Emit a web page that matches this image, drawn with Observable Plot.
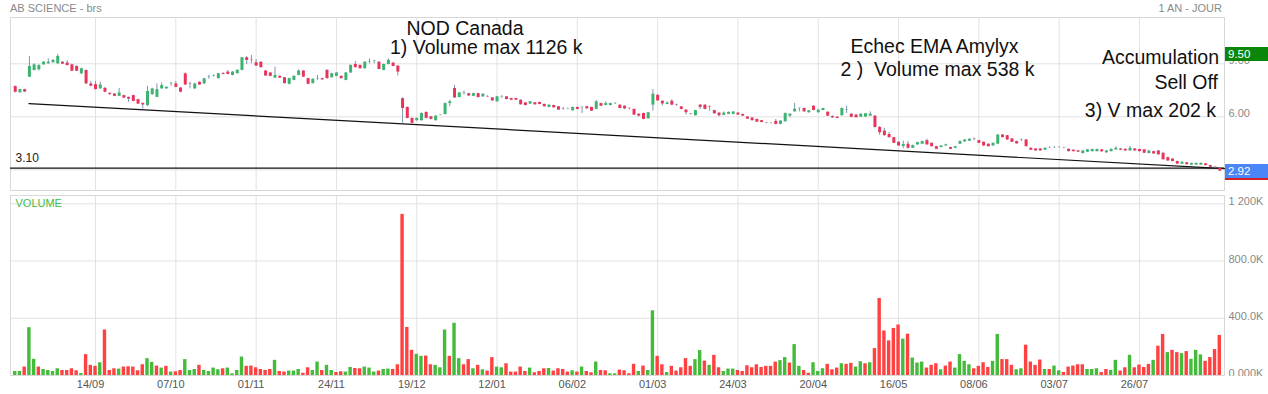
<!DOCTYPE html>
<html><head><meta charset="utf-8">
<script src="https://cdn.jsdelivr.net/npm/d3@7"></script>
<script src="https://cdn.jsdelivr.net/npm/@observablehq/plot@0.6"></script>
<style>
body{margin:0;background:#fff;font-family:"Liberation Sans",Arial,sans-serif;}
#wrap{position:relative;width:1268px;height:394px;overflow:hidden;background:#fff;}
#price,#volume{position:absolute;left:0;}
#price{top:0;}
#volume{top:190px;}
.hdr{position:absolute;font-size:11px;line-height:11px;color:#8a8a8a;white-space:pre;}
.box{position:absolute;left:1225px;width:43px;height:14px;color:#fff;font-size:11.5px;line-height:14px;padding-left:3px;box-sizing:border-box;}
#clip{position:absolute;left:1225px;top:376px;width:43px;height:18px;background:#fff;}
</style></head>
<body>
<div id="wrap">
  <div id="price"></div>
  <div id="volume"></div>
  <div id="clip"></div>
  <div class="hdr" style="left:10px;top:3px;">AB SCIENCE - brs</div>
  <div class="hdr" style="right:46px;top:3px;">1 AN - JOUR</div>
</div>
<script>
// ---- data ----
const opens = [7.71,7.36,7.54,8.24,8.62,8.66,8.94,9.00,9.06,9.00,
9.09,9.04,8.94,8.85,8.43,8.62,7.86,7.82,7.58,7.61,
7.33,7.29,7.16,7.20,7.10,7.20,6.97,6.76,6.63,7.25,
7.10,7.58,7.58,7.84,7.86,7.63,8.43,7.86,7.58,7.95,
7.86,8.24,8.29,8.16,8.45,8.53,8.34,8.44,8.63,9.34,
9.23,9.06,9.09,8.59,8.48,8.19,8.29,8.21,7.84,8.06,
8.34,8.59,8.16,7.88,8.15,8.16,8.63,8.21,8.29,8.29,
8.06,8.48,8.96,8.91,8.72,9.08,9.14,9.09,8.63,8.96,
9.04,8.87,7.03,6.53,5.91,5.78,5.78,6.25,6.00,5.78,
6.08,6.13,6.75,7.60,7.09,7.34,7.31,7.16,7.31,7.13,
7.14,7.07,6.85,7.12,7.13,7.03,7.03,6.94,6.79,6.72,
6.79,6.81,6.70,6.53,6.64,6.57,6.43,6.42,6.34,6.53,
6.52,6.57,6.53,6.42,6.75,6.64,6.64,6.74,6.66,6.60,
6.48,6.42,6.15,6.19,5.89,6.66,7.22,6.88,6.70,6.88,
6.67,6.56,6.38,6.16,6.06,6.66,6.66,6.55,6.35,6.21,
6.08,6.14,6.14,6.21,6.13,5.99,5.93,5.85,5.78,5.64,
5.63,5.74,5.57,5.72,6.04,6.28,6.46,6.47,6.23,6.60,
6.23,6.36,6.26,6.02,5.98,6.06,6.37,6.15,6.10,5.98,
5.99,6.04,6.04,5.40,5.19,5.00,4.82,4.56,4.32,4.45,
4.22,4.41,4.45,4.65,4.50,4.31,4.26,4.35,4.26,4.22,
4.45,4.58,4.62,4.74,4.65,4.56,4.45,4.35,4.45,4.97,
4.93,4.75,4.60,4.66,4.69,4.22,4.18,4.18,4.11,4.26,
4.25,4.26,4.23,4.16,4.11,4.07,3.92,4.00,4.03,4.03,
4.13,3.96,4.03,4.13,4.18,4.16,4.07,4.18,4.15,4.13,
3.92,4.03,4.07,3.94,3.69,3.61,3.47,3.32,3.40,3.27,
3.27,3.27,3.34,3.24,3.15,3.08];
const highs = [7.75,7.56,7.56,9.42,9.00,8.95,9.12,9.28,9.25,9.53,
9.12,9.19,8.98,8.88,8.75,8.66,8.00,8.00,7.96,7.67,
7.35,7.31,7.61,7.22,7.12,7.22,7.00,6.78,7.73,7.62,
7.86,7.92,7.70,7.96,8.00,7.65,8.49,7.96,7.90,7.98,
8.18,8.35,8.38,8.46,8.50,8.63,8.56,8.66,9.36,9.41,
9.47,9.23,9.12,8.62,8.50,8.81,8.31,8.23,8.19,8.32,
8.66,8.62,8.18,8.15,8.34,8.18,8.66,8.46,8.50,8.31,
8.50,8.93,9.13,8.93,9.12,9.28,9.19,9.12,8.98,9.28,
9.06,8.89,7.07,6.56,5.93,5.93,6.22,6.27,6.02,6.06,
6.12,6.78,6.94,7.78,7.38,7.46,7.33,7.33,7.33,7.30,
7.20,7.09,7.15,7.20,7.15,7.05,7.05,6.96,6.81,6.87,
6.81,6.83,6.72,6.68,6.66,6.59,6.53,6.50,6.55,6.55,
6.57,6.59,6.55,6.92,6.77,6.85,6.77,6.80,6.68,6.62,
6.50,6.44,6.17,6.21,6.25,7.54,7.24,6.90,6.85,6.96,
6.72,6.58,6.40,6.18,6.37,6.70,6.68,6.62,6.37,6.23,
6.28,6.27,6.29,6.23,6.15,6.01,5.95,5.87,5.80,5.66,
5.66,5.85,5.78,6.21,6.17,6.76,6.50,6.49,6.36,6.62,
6.40,6.49,6.28,6.04,6.00,6.50,6.60,6.17,6.12,6.17,
6.19,6.28,6.06,5.45,5.34,5.12,4.84,4.58,4.62,4.60,
4.40,4.56,4.62,4.73,4.52,4.33,4.37,4.45,4.28,4.33,
4.64,4.71,4.75,4.80,4.67,4.58,4.47,4.52,4.99,4.99,
4.95,4.77,4.62,4.75,4.71,4.24,4.20,4.20,4.24,4.30,
4.32,4.30,4.26,4.18,4.13,4.09,4.09,4.15,4.17,4.17,
4.15,4.09,4.18,4.30,4.20,4.18,4.32,4.20,4.17,4.15,
4.09,4.05,4.09,3.96,3.71,3.63,3.49,3.45,3.42,3.38,
3.38,3.40,3.36,3.26,3.20,3.10];
const lows = [7.35,7.34,7.38,8.22,8.60,8.60,8.92,8.98,9.04,8.98,
8.96,8.88,8.55,8.55,8.40,7.84,7.70,7.52,7.56,7.36,
7.20,7.14,7.14,7.04,6.82,6.85,6.70,6.44,6.60,7.22,
7.08,7.56,7.56,7.73,7.64,7.36,7.78,7.58,7.55,7.78,
7.84,8.12,8.25,8.14,8.38,8.38,8.32,8.42,8.60,8.96,
9.00,8.85,8.76,8.28,8.27,8.17,8.17,7.85,7.80,8.04,
8.32,8.22,7.82,7.86,8.06,8.07,8.14,8.19,8.27,8.14,
8.04,8.46,8.76,8.70,8.70,9.00,9.00,8.66,8.60,8.94,
8.83,8.31,5.63,5.88,5.60,5.75,5.76,5.88,5.83,5.76,
6.06,6.10,6.57,7.04,7.07,7.22,7.16,7.14,7.07,7.11,
7.10,6.88,6.83,7.05,6.96,6.92,6.92,6.66,6.62,6.70,
6.66,6.68,6.55,6.51,6.49,6.36,6.38,6.40,6.32,6.40,
6.19,6.43,6.30,6.40,6.58,6.62,6.62,6.70,6.45,6.40,
6.40,6.08,5.98,5.83,5.87,6.32,6.88,6.62,6.68,6.64,
6.60,6.40,6.10,6.10,6.04,6.41,6.40,6.32,6.15,6.00,
6.06,6.12,6.12,6.08,6.02,5.85,5.76,5.68,5.66,5.60,
5.60,5.55,5.55,5.70,5.95,6.26,6.28,6.26,6.21,6.34,
6.21,6.34,6.02,5.92,5.89,6.04,6.19,5.95,5.93,5.96,
5.97,6.02,5.35,4.95,4.91,4.80,4.48,4.33,4.20,4.17,
4.20,4.39,4.43,4.39,4.29,4.14,4.24,4.33,4.14,4.20,
4.43,4.56,4.60,4.65,4.48,4.33,4.29,4.33,4.43,4.80,
4.67,4.54,4.45,4.60,4.29,4.09,4.05,4.05,4.09,4.20,
4.22,4.22,4.20,4.01,4.01,3.98,3.90,3.98,4.01,4.01,
4.00,3.94,4.01,4.11,4.09,4.05,4.05,4.05,4.01,3.92,
3.90,3.88,3.83,3.55,3.48,3.45,3.30,3.30,3.27,3.25,
3.25,3.25,3.22,3.12,3.08,2.90];
const closes = [7.39,7.54,7.40,8.85,8.94,8.90,9.09,9.09,9.19,9.42,
8.98,8.90,8.58,8.58,8.72,7.86,7.73,7.54,7.80,7.39,
7.27,7.16,7.35,7.06,7.00,6.87,6.72,6.67,7.43,7.58,
7.54,7.77,7.67,7.86,7.67,7.39,7.80,7.84,7.86,7.80,
8.15,8.26,8.31,8.44,8.40,8.40,8.53,8.63,9.34,9.19,
9.21,8.87,8.78,8.31,8.29,8.34,8.19,7.88,8.16,8.29,
8.59,8.25,7.84,8.12,8.17,8.09,8.16,8.44,8.48,8.16,
8.48,8.91,8.78,8.72,9.09,9.10,9.16,8.68,8.96,9.19,
8.85,8.53,6.47,5.91,5.63,5.91,6.19,5.91,5.85,6.04,
6.10,6.75,6.85,7.07,7.35,7.36,7.18,7.31,7.09,7.28,
7.12,6.90,7.13,7.14,6.98,6.94,6.94,6.68,6.64,6.85,
6.68,6.70,6.57,6.66,6.51,6.38,6.41,6.43,6.53,6.42,
6.54,6.45,6.32,6.85,6.60,6.75,6.75,6.76,6.47,6.45,
6.46,6.10,6.04,5.85,6.23,7.28,6.90,6.73,6.78,6.66,
6.65,6.42,6.23,6.14,6.35,6.53,6.42,6.53,6.17,6.06,
6.21,6.25,6.27,6.10,6.04,5.87,5.78,5.70,5.68,5.62,
5.64,5.57,5.76,6.19,6.15,6.43,6.48,6.28,6.34,6.36,
6.38,6.47,6.04,5.94,5.91,6.47,6.39,5.97,5.95,6.15,
6.17,6.15,5.40,5.10,4.93,4.82,4.50,4.35,4.43,4.22,
4.37,4.54,4.60,4.41,4.31,4.16,4.35,4.41,4.16,4.31,
4.60,4.69,4.73,4.72,4.50,4.35,4.31,4.50,4.97,4.82,
4.69,4.56,4.47,4.68,4.31,4.11,4.07,4.07,4.22,4.25,
4.26,4.27,4.21,4.03,4.03,4.00,4.07,4.13,4.15,4.15,
4.02,4.07,4.16,4.22,4.11,4.07,4.22,4.07,4.03,3.94,
4.07,3.90,3.85,3.57,3.50,3.47,3.32,3.43,3.29,3.36,
3.36,3.36,3.24,3.14,3.13,2.93];
// volume in thousands
const volumes = [28,28,59,334,113,59,42,35,28,47,
35,35,47,33,14,146,71,64,89,318,
35,47,45,59,61,59,33,75,118,92,
66,52,64,24,26,35,111,35,42,71,
35,28,52,40,47,52,12,35,129,64,
66,54,42,35,42,106,28,24,31,31,
42,16,54,35,94,35,71,35,21,26,
24,56,49,47,59,52,24,31,42,45,
42,75,1126,336,176,148,134,136,75,71,
54,318,134,365,118,75,111,47,71,40,
31,125,59,54,82,24,24,59,28,52,
19,28,47,49,31,47,42,24,33,24,
59,28,19,94,35,33,12,12,38,33,
12,78,28,66,35,452,134,75,21,64,
31,54,118,64,111,174,101,71,141,54,
28,45,45,35,28,68,54,75,56,64,
64,94,104,125,87,216,64,35,16,89,
28,47,78,40,52,82,78,85,59,96,
82,89,188,538,311,242,329,353,254,289,
122,87,94,52,71,82,40,66,94,52,
146,99,75,47,64,89,56,99,287,111,
111,71,40,47,212,94,71,108,42,42,
66,33,21,59,66,75,75,42,42,47,
21,42,35,106,31,54,141,54,73,56,
78,106,205,287,160,176,160,153,167,113,
176,144,99,125,181,280];
// 1 = volume bar drawn green, 0 = red
const volumeUp = [1,1,0,1,1,0,1,1,1,1, 0,0,0,0,1,0,0,0,1,0, 0,0,1,0,0,0,0,0,1,1,
 0,1,0,1,0,0,1,1,1,0, 1,1,1,1,0,1,1,1,1,0, 0,0,0,0,0,1,0,0,1,1, 1,0,0,1,1,0,1,1,0,0,
 1,1,0,0,1,1,1,0,1,1, 0,0,0,0,0,1,1,0,0,1, 1,1,0,1,1,0,0,1,0,1, 0,0,1,1,0,0,0,0,0,1,
 0,0,0,1,0,0,0,0,1,0, 1,0,0,1,0,0,1,1,0,0, 0,0,1,0,1,1,0,0,1,0, 0,0,0,0,1,1,0,1,0,0,
 1,1,1,0,0,0,0,0,0,0, 0,0,1,1,0,1,1,0,0,1, 1,1,0,0,0,1,0,0,1,1, 0,1,0,0,0,0,0,0,1,0,
 1,1,1,0,0,0,1,0,0,1, 1,1,1,0,0,0,0,1,1,0, 0,0,1,1,0,0,0,0,1,0, 1,1,0,0,0,0,0,1,1,1,
 0,0,1,1,0,0,1,0,0,0, 0,1,0,0,1,0,0,1,0,1, 1,1,0,0,0,0];
const tickBars = [17,34,51,68,85,102,119,136,153,170,187,204,221,238];
const tickLabels = ["14/09","07/10","01/11","24/11","19/12","12/01","06/02","01/03","24/03","20/04","16/05","08/06","03/07","26/07"];
const priceTicks = [3,6,9];
const priceTickLabels = [6,9];   // the 3.00 label is hidden under the last-price tag
const volTicks = [0,400,800,1200];
const volTickLabels = ["0.000K","400.0K","800.0K","1 200K"];
const supportLevel = [3.10];
const trendBars = [2.9, 256];
const trendPrices = [6.75, 3.07];
const highMark = 9.50;
const lastClose = 2.92;
const notesLeft = ["NOD Canada","1) Volume max 1126 k","Echec EMA Amylyx","2 )\u00a0 Volume max 538 k"];
const notesRight = ["Accumulation","Sell Off","3) V max 202 k"];

// ---- build ----
const N = opens.length;
const candles = opens.map((o, i) => ({i, o, h: highs[i], l: lows[i], c: closes[i]}));
const vols = volumes.map((v, i) => ({i, v, up: volumeUp[i]}));
const trend = trendBars.map((b, k) => ({b, p: trendPrices[k]}));
const GREEN = "#3cb371", RED = "#e8335a", WICK = "#7f95b3";
const VGREEN = "#44bb3a", VRED = "#ff4141";
const GRID = "#e2e2e2", FRAME = "#d8d8d8";
const font = "'Liberation Sans', Arial, sans-serif";
const xOpt = {type: "linear", domain: [-1, N], axis: null};

const notePos = [[396, 10.8], [379.5, 30.3], [840, 29.5], [830, 52.1]];
const notePosR = [[1208.5, 40.5], [1207.5, 65.2], [1205.5, 93.6]];

const price = Plot.plot({
  width: 1268, height: 191, marginTop: 17, marginBottom: 1, marginLeft: 10, marginRight: 44,
  x: xOpt,
  y: {domain: [1.83, 11.62], axis: null},
  style: {fontFamily: font, background: "transparent", overflow: "visible"},
  marks: [
    Plot.ruleX(tickBars, {stroke: GRID}),
    Plot.ruleY(priceTicks, {stroke: GRID}),
    Plot.frame({stroke: FRAME}),
    Plot.ruleY(supportLevel, {stroke: "#111", strokeWidth: 1.3}),
    Plot.text(supportLevel, {y: d => d, text: d => d.toFixed(2), frameAnchor: "left", textAnchor: "start", dx: 5, dy: -10, fontSize: 12, fill: "#222"}),
    Plot.line(trend, {x: "b", y: "p", stroke: "#111", strokeWidth: 1.2}),
    Plot.ruleX(candles, {x: "i", y1: "l", y2: "h", stroke: WICK, strokeWidth: 1}),
    Plot.ruleX(candles, {x: "i", y1: "o", y2: "c", stroke: d => d.c >= d.o ? GREEN : RED, strokeWidth: 3}),
    Plot.text(priceTickLabels, {y: d => d, text: d => d.toFixed(2), frameAnchor: "right", textAnchor: "start", dx: 4, dy: -3, fontSize: 11, fill: "#888"}),
    ...notesLeft.map((t, k) => Plot.text([t], {frameAnchor: "top-left", textAnchor: "start", lineAnchor: "middle", dx: notePos[k][0], dy: notePos[k][1], fontSize: 19.5, fill: "#111"})),
    ...notesRight.map((t, k) => Plot.text([t], {frameAnchor: "top-left", textAnchor: "end", lineAnchor: "middle", dx: notePosR[k][0], dy: notePosR[k][1], fontSize: 19.5, fill: "#111"}))
  ]
});
document.getElementById("price").appendChild(price);

const volume = Plot.plot({
  width: 1268, height: 204, marginTop: 5, marginBottom: 19, marginLeft: 10, marginRight: 44,
  x: xOpt,
  y: {domain: [0, 1258], axis: null},
  style: {fontFamily: font, background: "transparent", overflow: "visible"},
  marks: [
    Plot.ruleX(tickBars, {stroke: GRID}),
    Plot.ruleY(volTicks, {stroke: GRID}),
    Plot.frame({stroke: FRAME}),
    Plot.rectY(vols, {x1: d => d.i - 0.36, x2: d => d.i + 0.36, y1: 0, y2: "v", fill: d => d.up ? VGREEN : VRED}),
    Plot.text(volTicks, {y: d => d, text: (d, k) => volTickLabels[k], frameAnchor: "right", textAnchor: "start", dx: 4, dy: -2, fontSize: 11, fill: "#888"}),
    Plot.text(tickBars, {x: d => d, text: (d, k) => tickLabels[k], frameAnchor: "bottom", lineAnchor: "middle", dx: -5, dy: 9, fontSize: 11, fill: "#555"}),
    Plot.text(["VOLUME"], {frameAnchor: "top-left", textAnchor: "start", lineAnchor: "middle", dx: 5, dy: 8.3, fontSize: 11, fill: "#44bb44"})
  ]
});
document.getElementById("volume").appendChild(volume);

// price tags on the right axis, placed with the price scale
const ys = price.scale("y");
const wrap = document.getElementById("wrap");
function tag(value, bg, underline) {
  const d = document.createElement("div");
  d.className = "box";
  d.style.top = (ys.apply(value) - 7) + "px";
  d.style.background = bg;
  if (underline) { d.style.borderBottom = "2px solid " + underline; d.style.height = "16px"; }
  d.textContent = value.toFixed(2);
  wrap.appendChild(d);
}
tag(highMark, "#0a860a");
tag(lastClose, "#4a86f7", "#d42020");
</script>
</body></html>
